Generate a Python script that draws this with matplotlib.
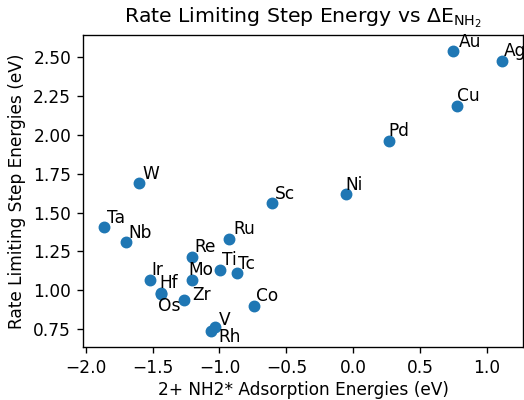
import matplotlib
matplotlib.use("Agg")
import matplotlib.pyplot as plt

metals = ["W", "Ta", "Nb", "Sc", "Ru", "Re", "Ti", "Tc", "Mo", "Ir", "Hf", "Os",
          "Zr", "Co", "V", "Rh", "Au", "Ag", "Cu", "Pd", "Ni"]
nh2_ads = [-1.604, -1.863, -1.696, -0.605, -0.929, -1.208, -0.994, -0.869, -1.203,
           -1.522, -1.440, -1.440, -1.263, -0.745, -1.036, -1.061, 0.747, 1.114,
           0.777, 0.267, -0.057]
rls_energy = [1.693, 1.409, 1.310, 1.564, 1.332, 1.213, 1.132, 1.113, 1.065,
              1.065, 0.981, 0.975, 0.936, 0.898, 0.762, 0.736, 2.541, 2.474,
              2.186, 1.963, 1.619]

# label offsets in display pixels (layout only)
label_offsets = {
    "W": (3.5, 4), "Ta": (2.5, 3.6), "Nb": (2.0, 4.4), "Sc": (2.6, 3.6),
    "Ru": (4.6, 4.3), "Re": (2.3, 5), "Ti": (1.3, 4.3), "Tc": (1.3, 3.3),
    "Mo": (-4.0, 4.7), "Ir": (1.3, 4.7), "Hf": (-0.8, 5.4), "Os": (-2.7, -17.4),
    "Zr": (7.5, 0.4), "Co": (2.3, 4.7), "V": (4.6, 2.4), "Rh": (7.0, -11),
    "Au": (5.5, 4), "Ag": (1, 5), "Cu": (-0.2, 4.7), "Pd": (-0.8, 4.3),
    "Ni": (-0.8, 4.3),
}

DPI = 122
fig = plt.figure(figsize=(524 / DPI, 400 / DPI), dpi=DPI)
ax = fig.add_axes([83 / 524, 53 / 400, 440 / 524, 312 / 400])
ax.scatter(nh2_ads, rls_energy, color="#1f77b4")
for name, xv, yv in zip(metals, nh2_ads, rls_energy):
    dx, dy = label_offsets[name]
    ax.annotate(name, (xv, yv), xytext=(dx, dy), textcoords="offset pixels",
                annotation_clip=False)

ax.set_xlim(-2.02, 1.268)
ax.set_ylim(0.634, 2.644)
ax.set_xticks([-2.0, -1.5, -1.0, -0.5, 0.0, 0.5, 1.0])
ax.set_yticks([0.75, 1.00, 1.25, 1.50, 1.75, 2.00, 2.25, 2.50])
ax.set_xlabel("2+ NH2* Adsorption Energies (eV)", labelpad=2.5)
ax.set_ylabel("Rate Limiting Step Energies (eV)")
ax.set_title(r"Rate Limiting Step Energy vs $\Delta \mathrm{E}_{\mathrm{NH}_2}$", pad=7.2)
fig.savefig("out.png", dpi=DPI)
